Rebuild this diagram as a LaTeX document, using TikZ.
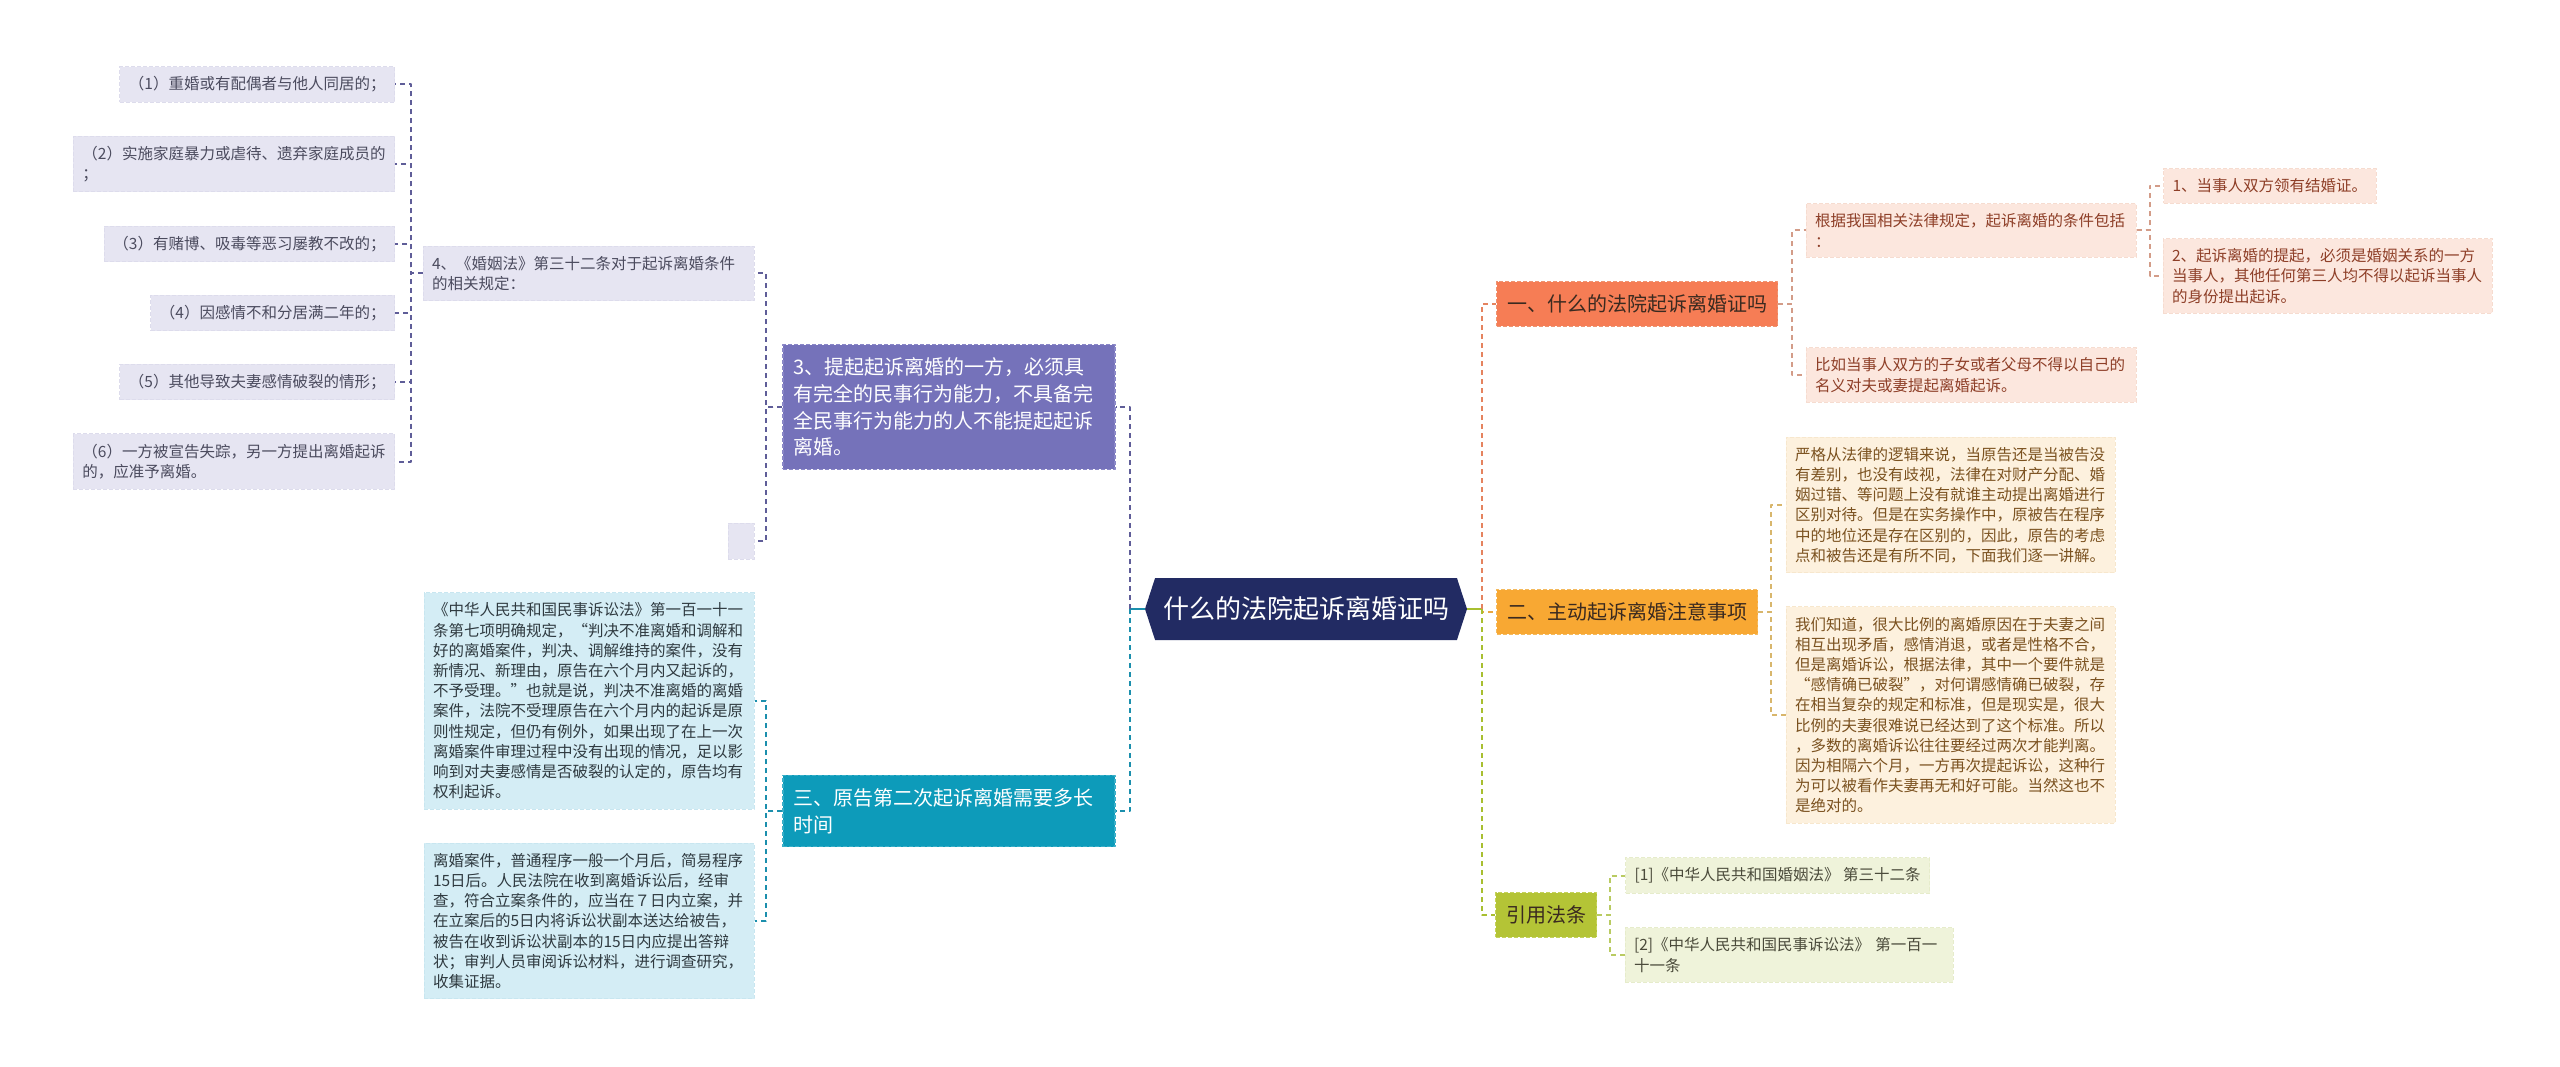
\documentclass[tikz,border=0pt]{standalone}
\usepackage{fontspec}
\setmainfont{Noto Sans CJK SC}
\usetikzlibrary{shapes.symbols}

\definecolor{navy}{HTML}{222B63}
\definecolor{purp}{HTML}{7572BA}
\definecolor{purpedge}{HTML}{8A87C7}
\definecolor{teal2}{HTML}{0D9BBA}
\definecolor{tealedge}{HTML}{3AAFC8}
\definecolor{orng}{HTML}{F67D55}
\definecolor{orngedge}{HTML}{EE9472}
\definecolor{ambr}{HTML}{F8A833}
\definecolor{ambredge}{HTML}{F4BA5E}
\definecolor{lime}{HTML}{B4C436}
\definecolor{limeedge}{HTML}{C4D25C}
\definecolor{brtext}{HTML}{3A2A20}
\definecolor{lavfill}{HTML}{E6E5F2}
\definecolor{lavedge}{HTML}{DDDCEC}
\definecolor{lavtext}{HTML}{4B4B5E}
\definecolor{bluefill}{HTML}{D4EDF5}
\definecolor{blueedge}{HTML}{C8E6F0}
\definecolor{bluetext}{HTML}{2F3A40}
\definecolor{pinkfill}{HTML}{FCE7DE}
\definecolor{pinkedge}{HTML}{F6DCD0}
\definecolor{pinktext}{HTML}{8E3F28}
\definecolor{creamfill}{HTML}{FDF1DE}
\definecolor{creamedge}{HTML}{F7E7CD}
\definecolor{creamtext}{HTML}{7B5220}
\definecolor{palefill}{HTML}{EFF3DA}
\definecolor{paleedge}{HTML}{E6ECCB}
\definecolor{paletext}{HTML}{4A4A3A}
\definecolor{lnpurp}{HTML}{5F5D98}
\definecolor{lnteal}{HTML}{1B8FAD}
\definecolor{lnorng}{HTML}{E5835F}
\definecolor{lnpink}{HTML}{D39C88}
\definecolor{lnambr}{HTML}{E9A843}
\definecolor{lncream}{HTML}{D8B66C}
\definecolor{lnlime}{HTML}{A8BF30}
\definecolor{lnpale}{HTML}{B9CB62}

\begin{document}
\begin{tikzpicture}[x=1pt, y=-1pt, line join=round,
  leaf/.style={inner xsep=9pt, inner ysep=10pt, align=left, line width=1pt,
    dash pattern=on 4pt off 2pt, font=\fontsize{15.5}{20.2}\selectfont},
  lavleaf/.style={leaf, fill=lavfill, draw=lavedge, text=lavtext},
  blueleaf/.style={leaf, fill=bluefill, draw=blueedge, text=bluetext},
  pinkleaf/.style={leaf, fill=pinkfill, draw=pinkedge, text=pinktext},
  creamleaf/.style={leaf, fill=creamfill, draw=creamedge, text=creamtext},
  paleleaf/.style={leaf, fill=palefill, draw=paleedge, text=paletext},
  branch/.style={inner xsep=10.5pt, inner ysep=13pt, align=left, line width=1.2pt,
    dash pattern=on 4pt off 2pt, font=\fontsize{20}{26.7}\selectfont},
  link/.style={line width=2pt, dash pattern=on 5pt off 4pt},
  lnkP/.style={link, draw=lnpurp},
  lnkT/.style={link, draw=lnteal},
  lnkO/.style={link, draw=lnorng},
  lnkK/.style={link, draw=lnpink},
  lnkA/.style={link, draw=lnambr},
  lnkC/.style={link, draw=lncream},
  lnkG/.style={link, draw=lnlime},
  lnkL/.style={link, draw=lnpale}]

  \fill[white] (0,0) rectangle (2560,1067);

  %% ════ 中心主题 ════
  \node[signal, signal to=east and west, signal pointer angle=144, fill=navy, text=white,
    minimum width=322pt, minimum height=62pt, inner xsep=4pt,
    font=\fontsize{26}{30}\selectfont] (root) at (1306,609) {什么的法院起诉离婚证吗};

  %% ════ 左侧分支 ════
  \node[branch, fill=purp, draw=purpedge, text=white, text width=311pt] (t3) at (949,407)
    {3、提起起诉离婚的一方，必须具\\有完全的民事行为能力，不具备完\\全民事行为能力的人不能提起起诉\\离婚。};
  \node[branch, fill=teal2, draw=tealedge, text=white, text width=311pt] (t5) at (949,811)
    {三、原告第二次起诉离婚需要多长\\时间};

  \node[lavleaf, text width=313pt] (t4) at (588.5,273.5)
    {4、《婚姻法》第三十二条对于起诉离婚条件\\的相关规定：};
  \node[lavleaf, inner sep=0pt, minimum width=26pt, minimum height=36pt] (tE) at (741,541) {};

  \node[lavleaf, anchor=east] (c1) at (395,84.5) {（1）重婚或有配偶者与他人同居的；};
  \node[lavleaf, anchor=east] (c2) at (395,164) {（2）实施家庭暴力或虐待、遗弃家庭成员的\\；};
  \node[lavleaf, anchor=east] (c3) at (395,244) {（3）有赌博、吸毒等恶习屡教不改的；};
  \node[lavleaf, anchor=east] (c4) at (395,313) {（4）因感情不和分居满二年的；};
  \node[lavleaf, anchor=east] (c5) at (395,382) {（5）其他导致夫妻感情破裂的情形；};
  \node[lavleaf, anchor=east] (c6) at (395,461.5) {（6）一方被宣告失踪，另一方提出离婚起诉\\的，应准予离婚。};

  \node[blueleaf, text width=312pt] (b1) at (589,701)
    {《中华人民共和国民事诉讼法》第一百一十一\\条第七项明确规定，“判决不准离婚和调解和\\好的离婚案件，判决、调解维持的案件，没有\\新情况、新理由，原告在六个月内又起诉的，\\不予受理。”也就是说，判决不准离婚的离婚\\案件，法院不受理原告在六个月内的起诉是原\\则性规定，但仍有例外，如果出现了在上一次\\离婚案件审理过程中没有出现的情况，足以影\\响到对夫妻感情是否破裂的认定的，原告均有\\权利起诉。};
  \node[blueleaf, text width=312pt] (b2) at (589,921)
    {离婚案件，普通程序一般一个月后，简易程序\\15日后。人民法院在收到离婚诉讼后，经审\\查，符合立案条件的，应当在７日内立案，并\\在立案后的5日内将诉讼状副本送达给被告，\\被告在收到诉讼状副本的15日内应提出答辩\\状；审判人员审阅诉讼材料，进行调查研究，\\收集证据。};

  %% ════ 右侧分支 ════
  \node[branch, fill=orng, draw=orngedge, text=brtext, anchor=west] (r1) at (1496,304) {一、什么的法院起诉离婚证吗};
  \node[branch, fill=ambr, draw=ambredge, text=brtext, anchor=west] (r2) at (1496,612) {二、主动起诉离婚注意事项};
  \node[branch, fill=lime, draw=limeedge, text=brtext, anchor=west] (r3) at (1495,915) {引用法条};

  \node[pinkleaf, text width=312pt] (p1) at (1971,230.5) {根据我国相关法律规定，起诉离婚的条件包括\\：};
  \node[pinkleaf, text width=312pt] (p2) at (1971,375) {比如当事人双方的子女或者父母不得以自己的\\名义对夫或妻提起离婚起诉。};
  \node[pinkleaf, anchor=west] (q1) at (2163,186) {1、当事人双方领有结婚证。};
  \node[pinkleaf, text width=311pt] (q2) at (2327.5,276)
    {2、起诉离婚的提起，必须是婚姻关系的一方\\当事人，其他任何第三人均不得以起诉当事人\\的身份提出起诉。};

  \node[creamleaf, text width=311pt] (y1) at (1950.5,505)
    {严格从法律的逻辑来说，当原告还是当被告没\\有差别，也没有歧视，法律在对财产分配、婚\\姻过错、等问题上没有就谁主动提出离婚进行\\区别对待。但是在实务操作中，原被告在程序\\中的地位还是存在区别的，因此，原告的考虑\\点和被告还是有所不同，下面我们逐一讲解。};
  \node[creamleaf, text width=311pt] (y2) at (1950.5,715)
    {我们知道，很大比例的离婚原因在于夫妻之间\\相互出现矛盾，感情消退，或者是性格不合，\\但是离婚诉讼，根据法律，其中一个要件就是\\“感情确已破裂”，对何谓感情确已破裂，存\\在相当复杂的规定和标准，但是现实是，很大\\比例的夫妻很难说已经达到了这个标准。所以\\，多数的离婚诉讼往往要经过两次才能判离。\\因为相隔六个月，一方再次提起诉讼，这种行\\为可以被看作夫妻再无和好可能。当然这也不\\是绝对的。};

  \node[paleleaf, anchor=west] (g1) at (1625,875.5) {[1]《中华人民共和国婚姻法》 第三十二条};
  \node[paleleaf, text width=310pt] (g2) at (1789,955) {[2]《中华人民共和国民事诉讼法》 第一百一\\十一条};

  %% ════ 连线（左）════
  \draw[lnkT, solid] (root.west) -- ++(-15,0);
  \draw[lnkP] (root.west) ++(-15,0) |- (t3.east);
  \draw[lnkT] (root.west) ++(-15,0) |- (t5.east);

  \draw[lnkP] (t3.west) -- ++(-16,0) |- (t4.east);
  \draw[lnkP] (t3.west) -- ++(-16,0) |- (tE.east);
  \foreach \c in {c1,c2,c3,c4,c5,c6}
    \draw[lnkP] (t4.west) -- ++(-12,0) |- (\c.east);

  \draw[lnkT] (t5.west) -- ++(-16,0) |- (b1.east);
  \draw[lnkT] (t5.west) -- ++(-16,0) |- (b2.east);

  %% ════ 连线（右）════
  \draw[lnkG, solid] (root.east) -- ++(15,0);
  \draw[lnkO] (root.east) ++(15,0) |- (r1.west);
  \draw[lnkA] (root.east) ++(15,0) |- (r2.west);
  \draw[lnkG] (root.east) ++(15,0) |- (r3.west);

  \draw[lnkK] (r1.east) -- ++(14,0) |- (p1.west);
  \draw[lnkK] (r1.east) -- ++(14,0) |- (p2.west);
  \draw[lnkK] (p1.east) -- ++(13,0) |- (q1.west);
  \draw[lnkK] (p1.east) -- ++(13,0) |- (q2.west);

  \draw[lnkC] (r2.east) -- ++(13,0) |- (y1.west);
  \draw[lnkC] (r2.east) -- ++(13,0) |- (y2.west);

  \draw[lnkL] (r3.east) -- ++(13,0) |- (g1.west);
  \draw[lnkL] (r3.east) -- ++(13,0) |- (g2.west);

  % 钉死画布
  \pgfresetboundingbox
  \path[use as bounding box] (0,0) rectangle (2560,1067);
\end{tikzpicture}
\end{document}
